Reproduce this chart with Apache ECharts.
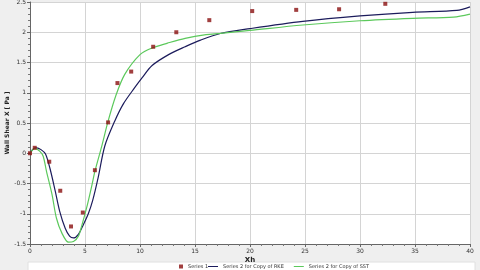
<!DOCTYPE html>
<html><head><meta charset="utf-8">
<script src="https://cdn.jsdelivr.net/npm/echarts@6/dist/echarts.min.js"></script>
<style>html,body{margin:0;padding:0;background:#efefef}#c{width:480px;height:270px}</style>
</head><body><div id="c"></div>
<script>
const s1X = [0, 0.43, 1.75, 2.75, 3.73, 4.8, 5.9, 7.1, 7.95, 9.2, 11.2, 13.3, 16.3, 20.2, 24.2, 28.1, 32.3];
const s1Y = [0, 0.09, -0.14, -0.62, -1.21, -0.98, -0.28, 0.51, 1.16, 1.35, 1.76, 2.0, 2.2, 2.35, 2.37, 2.38, 2.47];
const rkeX = [0, 0.3, 0.6, 1.0, 1.4, 1.8, 2.3, 2.7, 3.2, 3.6, 3.95, 4.4, 4.85, 5.3, 5.7, 6.2, 6.8, 7.7, 8.5, 9.5, 10.2, 11.1, 12.6, 14.1, 15.5, 17.3, 20, 24.8, 30, 34.8, 38.8, 40];
const rkeY = [0, 0.07, 0.09, 0.06, -0.01, -0.24, -0.63, -0.96, -1.24, -1.37, -1.40, -1.34, -1.18, -1.0, -0.78, -0.4, 0.12, 0.53, 0.82, 1.08, 1.25, 1.45, 1.63, 1.76, 1.87, 1.98, 2.06, 2.18, 2.27, 2.33, 2.36, 2.42];
const sstX = [0, 0.45, 0.9, 1.2, 1.5, 2.0, 2.4, 2.9, 3.5, 3.95, 4.4, 4.7, 5.15, 5.6, 5.9, 6.5, 7.1, 7.8, 8.6, 10, 11.1, 12.5, 14.1, 16, 17.3, 20, 24.8, 30, 34.8, 38.5, 40];
const sstY = [0, 0.08, 0.03, -0.05, -0.3, -0.68, -1.07, -1.32, -1.47, -1.46, -1.37, -1.2, -0.9, -0.55, -0.3, 0.1, 0.53, 0.95, 1.3, 1.63, 1.74, 1.82, 1.9, 1.96, 1.98, 2.03, 2.12, 2.19, 2.23, 2.25, 2.3];
const seriesNames = ['Series 1', 'Series 2 for Copy of RKE', 'Series 2 for Copy of SST'];
const xName = 'Xh';
const yName = 'Wall Shear X [ Pa ]';

const zip = (a, b) => a.map((v, i) => [v, b[i]]);
const F = 'DejaVu Sans';
const chart = echarts.init(document.getElementById('c'));
chart.setOption({
  backgroundColor: '#efefef',
  animation: false,
  textStyle: {fontFamily: F},
  graphic: [{type: 'rect', shape: {x: 28, y: 262, width: 447, height: 12}, style: {fill: '#fff', stroke: '#e0e0e0'}, z: -1}],
  grid: {left: 30, right: 10, top: 2, bottom: 26, show: true, backgroundColor: '#fff', borderWidth: 0, outerBoundsMode: 'none', containLabel: false},
  legend: [{
    top: 264, left: 179, padding: 0, itemWidth: 4, itemHeight: 4, itemGap: 8,
    textStyle: {fontSize: 5, color: '#333', fontFamily: F},
    data: [{name: seriesNames[0], icon: 'rect'}]
  }, {
    top: 264, left: 208, padding: 0, itemWidth: 10, itemHeight: 1, itemGap: 10,
    textStyle: {fontSize: 5, color: '#333', fontFamily: F, padding: [3, 0, 0, 0]},
    data: [{name: seriesNames[1], icon: 'rect'}, {name: seriesNames[2], icon: 'rect'}]
  }],
  xAxis: {
    type: 'value', min: 0, max: 40, interval: 5,
    name: xName, nameLocation: 'middle', nameGap: 13, nameMoveOverlap: false,
    nameTextStyle: {fontSize: 7, fontWeight: 'bold', color: '#222', fontFamily: F},
    axisLine: {onZero: false, lineStyle: {color: '#666'}},
    axisTick: {show: true, length: 3, lineStyle: {color: '#666'}},
    minorTick: {show: true, splitNumber: 5, length: 2, lineStyle: {color: '#777'}},
    axisLabel: {fontSize: 6, color: '#333', margin: 4},
    splitLine: {show: true, lineStyle: {color: '#d4d4d4'}}
  },
  yAxis: {
    type: 'value', min: -1.5, max: 2.5, interval: 0.5,
    name: yName, nameLocation: 'middle', nameGap: 20, nameMoveOverlap: false,
    nameTextStyle: {fontSize: 6, fontWeight: 'bold', color: '#222', fontFamily: F},
    axisLine: {show: true, onZero: false, lineStyle: {color: '#666'}},
    axisTick: {show: true, length: 3, lineStyle: {color: '#666'}},
    minorTick: {show: true, splitNumber: 5, length: 2, lineStyle: {color: '#777'}},
    axisLabel: {fontSize: 6, color: '#333', margin: 4},
    splitLine: {show: true, lineStyle: {color: '#d4d4d4'}}
  },
  series: [
    {name: seriesNames[0], type: 'scatter', symbol: 'rect', symbolSize: 4, itemStyle: {color: '#8a0f0f'}, data: zip(s1X, s1Y), z: 5},
    {name: seriesNames[1], type: 'line', symbol: 'none', smooth: 0.3, lineStyle: {color: '#1c1c5c', width: 1.2}, itemStyle: {color: '#1c1c5c'}, data: zip(rkeX, rkeY)},
    {name: seriesNames[2], type: 'line', symbol: 'none', smooth: 0.3, lineStyle: {color: '#5cc95c', width: 1.2}, itemStyle: {color: '#5cc95c'}, data: zip(sstX, sstY)}
  ]
});
</script></body></html>
